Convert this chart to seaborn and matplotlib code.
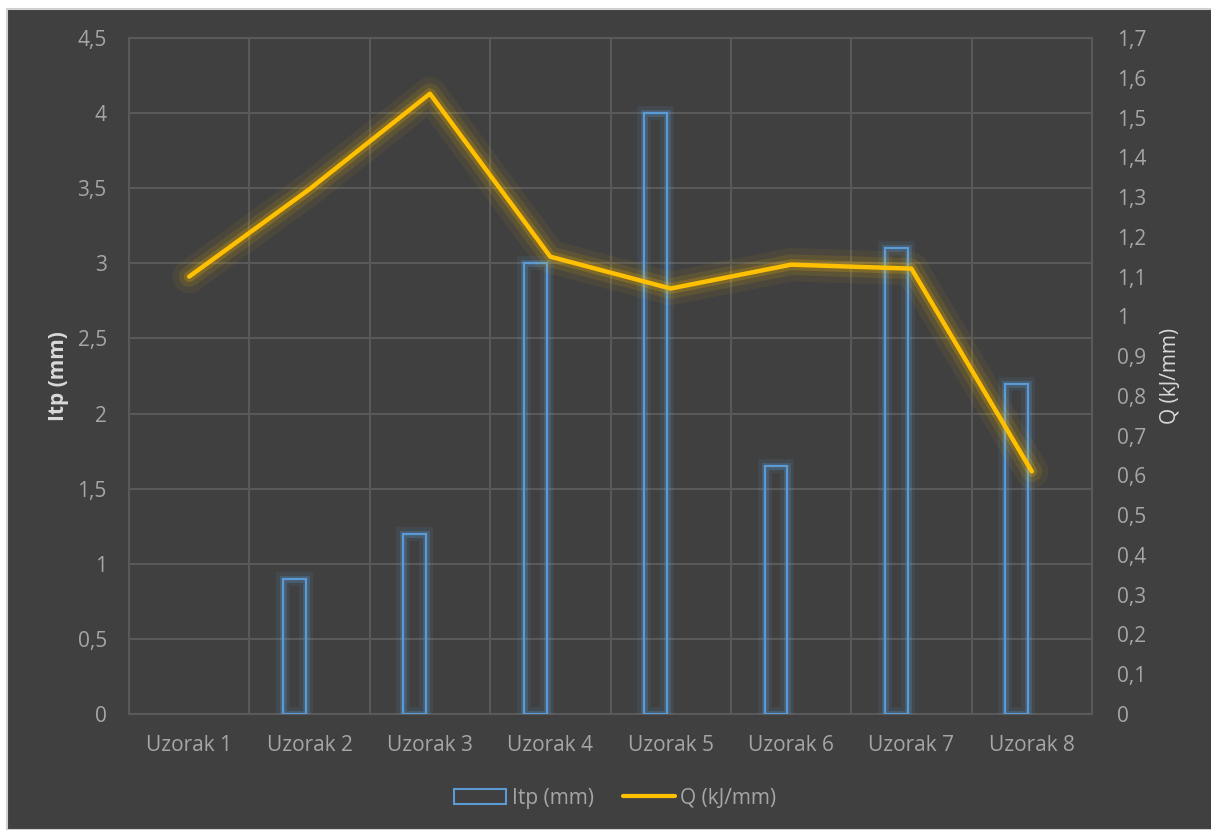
import pandas as pd
import numpy as np
import matplotlib
matplotlib.use("Agg")
import matplotlib.pyplot as plt
import matplotlib.patheffects as pe
from matplotlib.patches import Rectangle
from matplotlib.lines import Line2D
from matplotlib.ticker import FuncFormatter, MultipleLocator
import seaborn as sns

# Podaci
uzorci = ["Uzorak 1", "Uzorak 2", "Uzorak 3", "Uzorak 4",
          "Uzorak 5", "Uzorak 6", "Uzorak 7", "Uzorak 8"]
itp = [0, 0.9, 1.2, 3.0, 4.0, 1.65, 3.1, 2.2]
q = [1.1, 1.32, 1.56, 1.15, 1.07, 1.13, 1.12, 0.61]

df = pd.DataFrame({"uzorak": uzorci, "itp": itp, "q": q})

BG = "#404040"
GRID = "#595959"
TXT = "#A6A6A6"
BLUE = "#5B9BD5"
GOLD = "#FFC000"
FS = 15

sns.set_style("dark")
plt.rcParams["font.family"] = ["Open Sans", "DejaVu Sans"]

fig = plt.figure(figsize=(12.11, 8.30), dpi=100, facecolor="white")
fig.patches.append(Rectangle((7 / 1211, 0), 1, 1 - 9 / 830, transform=fig.transFigure,
                             facecolor=BG, edgecolor="#D0D0D0", linewidth=1.5, zorder=-10))
ax = fig.add_axes([129 / 1211, 1 - 714 / 830, (1092 - 129) / 1211, (714 - 38) / 830])
ax.set_facecolor(BG)

# Stupci
sns.barplot(data=df, x="uzorak", y="itp", ax=ax, width=0.19,
            facecolor="none", edgecolor=BLUE, linewidth=1.6, zorder=3)
for p in ax.patches:
    p.set_x(p.get_x() - 0.125)
    p.set_path_effects([
        pe.Stroke(linewidth=10, foreground=BLUE, alpha=0.1),
        pe.Stroke(linewidth=5, foreground=BLUE, alpha=0.25),
        pe.Normal(),
    ])
    if p.get_height() == 0:
        p.set_visible(False)

ax.set_xlim(-0.5, 7.5)
ax.set_ylim(0, 4.5)
ax.yaxis.set_major_locator(MultipleLocator(0.5))
ax.xaxis.set_minor_locator(MultipleLocator(1, offset=0.5))
ax.grid(False)
ax.grid(True, axis="y", which="major", color=GRID, linewidth=1.5)
ax.grid(True, axis="x", which="minor", color=GRID, linewidth=1.5)
for s in ax.spines.values():
    s.set_color(GRID)
    s.set_linewidth(1.5)

fmt = FuncFormatter(lambda v, pos: ("%g" % round(v, 2)).replace(".", ","))
ax.yaxis.set_major_formatter(fmt)
ax.tick_params(axis="both", which="both", length=0, colors=TXT, labelsize=FS)
ax.tick_params(axis="y", pad=16)
ax.tick_params(axis="x", pad=15)
ax.set_xlabel("")
ax.set_ylabel("Itp (mm)", color="#D9D9D9", fontsize=FS, fontweight="bold", labelpad=6)

# Linija
ax2 = ax.twinx()
sns.lineplot(data=df, x="uzorak", y="q", ax=ax2, color=GOLD, linewidth=3.2,
             sort=False, zorder=5)
line = ax2.lines[0]
line.set_solid_capstyle("round")
line.set_path_effects([
    pe.Stroke(linewidth=24, foreground=GOLD, alpha=0.06),
    pe.Stroke(linewidth=15, foreground=GOLD, alpha=0.1),
    pe.Stroke(linewidth=8, foreground=GOLD, alpha=0.2),
    pe.Normal(),
])
ax2.set_ylim(0, 1.7)
ax2.set_xlim(-0.5, 7.5)
ax2.yaxis.set_major_locator(MultipleLocator(0.1))
ax2.yaxis.set_major_formatter(fmt)
ax2.grid(False)
ax2.set_facecolor("none")
for s in ax2.spines.values():
    s.set_visible(False)
ax2.yaxis.set_tick_params(length=0, colors=TXT, labelsize=FS, pad=18)
ax2.set_ylabel("Q (kJ/mm)", color="#D9D9D9", fontsize=FS, labelpad=10)

# Legenda
handles = [Rectangle((0, 0), 1, 1, facecolor="none", edgecolor=BLUE, linewidth=1.5),
           Line2D([], [], color=GOLD, linewidth=3)]
fig.legend(handles, ["Itp (mm)", "Q (kJ/mm)"], loc="center", ncol=2,
           bbox_to_anchor=(0.508, 1 - 798 / 830), frameon=False,
           labelcolor=TXT, fontsize=FS, handlelength=2.5, handletextpad=0.25,
           columnspacing=1.4)

fig.savefig("out.png", dpi=100, facecolor=fig.get_facecolor())
